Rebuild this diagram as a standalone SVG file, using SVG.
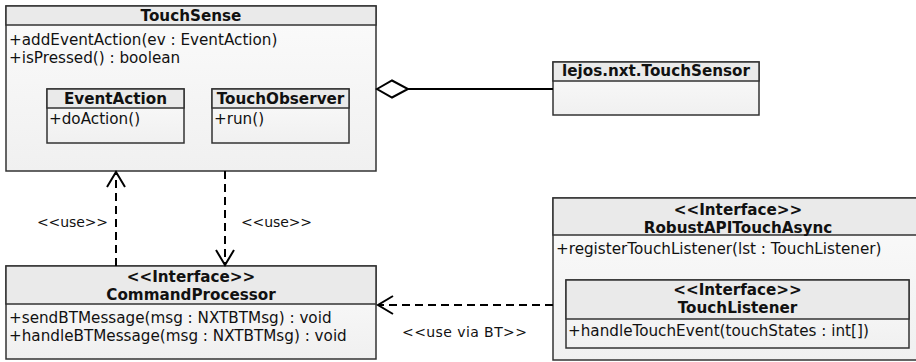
<svg xmlns="http://www.w3.org/2000/svg" width="916" height="362" viewBox="0 0 916 362">
<defs>
<linearGradient id="body" x1="0" y1="0" x2="0" y2="1"><stop offset="0" stop-color="#fbfbfb"/><stop offset="1" stop-color="#f0f0f0"/></linearGradient>
<marker id="open" markerUnits="userSpaceOnUse" markerWidth="20" markerHeight="24" viewBox="-17 -11 20 22" refX="0" refY="0" orient="auto"><path d="M-15,-9 L0,0 L-15,9" fill="none" stroke="#000" stroke-width="2"/></marker>
</defs>
<style>
.box{fill:url(#body);stroke:#333;stroke-width:1.5}
.head{fill:#eaeaea;stroke:#333;stroke-width:1.5}
.t{font-family:"DejaVu Sans",Verdana,sans-serif;font-size:15.2px;fill:#111}
.b{font-weight:bold;text-anchor:middle}
.lbl{font-family:"DejaVu Sans",Verdana,sans-serif;font-size:14px;fill:#111}
.dash{fill:none;stroke:#000;stroke-width:2;stroke-dasharray:8,5}
</style>
<rect width="916" height="362" fill="#fff"/>
<g id="TouchSense">
<rect class="box" x="6" y="6" width="370" height="165"/>
<rect class="head" x="6" y="6" width="370" height="19"/>
<text class="t b" x="191" y="21">TouchSense</text>
<text class="t" x="9" y="45">+addEventAction(ev : EventAction)</text>
<text class="t" x="9" y="63">+isPressed() : boolean</text>
</g>
<g id="EventAction">
<rect class="box" x="47" y="89" width="137" height="54"/>
<rect class="head" x="47" y="89" width="137" height="19"/>
<text class="t b" x="115.5" y="104">EventAction</text>
<text class="t" x="49" y="124">+doAction()</text>
</g>
<g id="TouchObserver">
<rect class="box" x="212" y="89" width="137" height="54"/>
<rect class="head" x="212" y="89" width="137" height="19"/>
<text class="t b" x="280.5" y="104">TouchObserver</text>
<text class="t" x="214" y="124">+run()</text>
</g>
<g id="TouchSensor">
<rect class="box" x="553" y="62" width="206" height="53"/>
<rect class="head" x="553" y="62" width="206" height="19"/>
<text class="t b" x="656" y="76">lejos.nxt.TouchSensor</text>
</g>
<g id="CommandProcessor">
<rect class="box" x="6" y="266" width="370" height="93"/>
<rect class="head" x="6" y="266" width="370" height="38"/>
<text class="t b" x="191" y="282">&lt;&lt;Interface&gt;&gt;</text>
<text class="t b" x="191" y="300">CommandProcessor</text>
<text class="t" x="9" y="323">+sendBTMessage(msg : NXTBTMsg) : void</text>
<text class="t" x="9" y="341">+handleBTMessage(msg : NXTBTMsg) : void</text>
</g>
<g id="RobustAPITouchAsync">
<rect class="box" x="553" y="198" width="372" height="162"/>
<rect class="head" x="553" y="198" width="372" height="37"/>
<text class="t b" x="738" y="215">&lt;&lt;Interface&gt;&gt;</text>
<text class="t b" x="738" y="233">RobustAPITouchAsync</text>
<text class="t" x="556" y="254">+registerTouchListener(lst : TouchListener)</text>
</g>
<g id="TouchListener">
<rect class="box" x="566" y="280" width="343" height="68"/>
<rect class="head" x="566" y="280" width="343" height="39"/>
<text class="t b" x="737.5" y="295">&lt;&lt;Interface&gt;&gt;</text>
<text class="t b" x="737.5" y="313">TouchListener</text>
<text class="t" x="568" y="336">+handleTouchEvent(touchStates : int[])</text>
</g>
<g id="connectors">
<line x1="408" y1="89" x2="553" y2="89" stroke="#000" stroke-width="2"/>
<polygon points="377,89 392,80.5 408,89 392,97.5" fill="#fff" stroke="#000" stroke-width="2"/>
<line class="dash" x1="116" y1="266" x2="116" y2="172" marker-end="url(#open)"/>
<line class="dash" x1="225" y1="171" x2="225" y2="265" marker-end="url(#open)"/>
<line class="dash" x1="553" y1="305" x2="378" y2="305" marker-end="url(#open)"/>
<text class="lbl" x="37" y="227" textLength="71" lengthAdjust="spacing">&lt;&lt;use&gt;&gt;</text>
<text class="lbl" x="241" y="227" textLength="71" lengthAdjust="spacing">&lt;&lt;use&gt;&gt;</text>
<text class="lbl" x="402" y="337" textLength="125" lengthAdjust="spacing">&lt;&lt;use via BT&gt;&gt;</text>
</g>
</svg>
